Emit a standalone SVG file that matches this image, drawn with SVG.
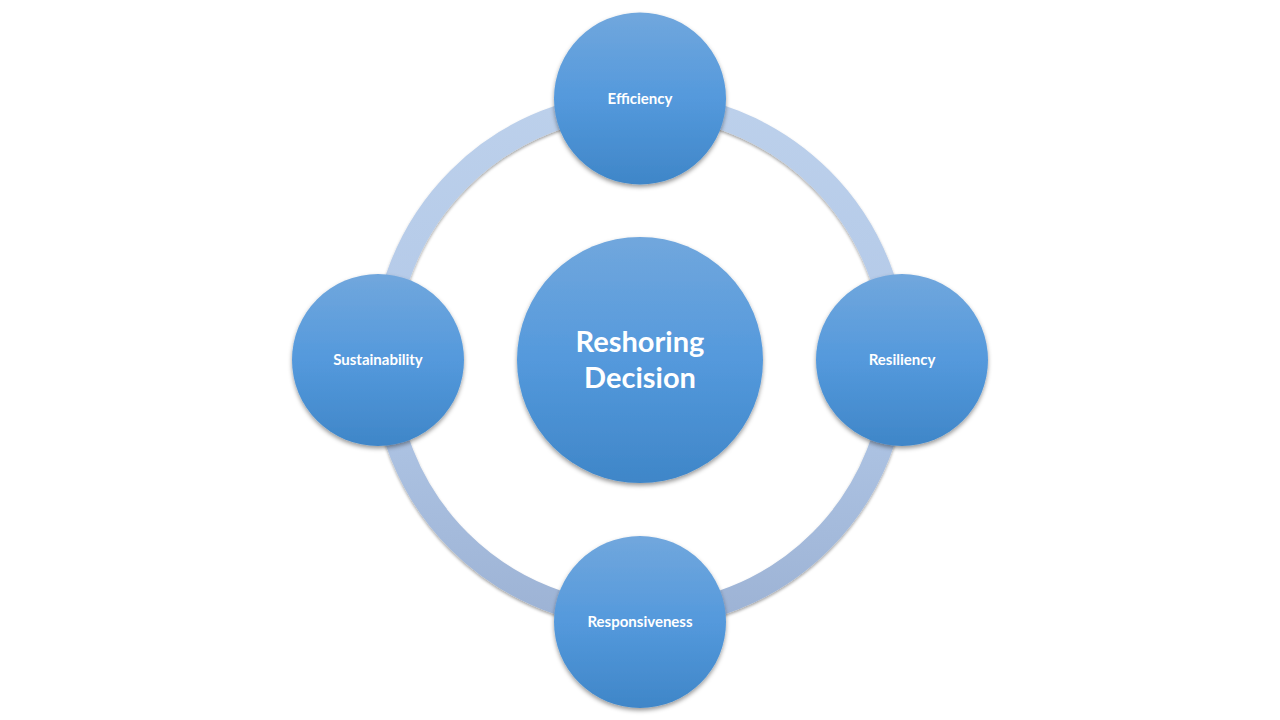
<svg xmlns="http://www.w3.org/2000/svg" width="1280" height="720" viewBox="0 0 1280 720">
  <defs>
    <linearGradient id="ballGrad" x1="0" y1="0" x2="0" y2="1">
      <stop offset="0" stop-color="#71a7dd"/>
      <stop offset="0.5" stop-color="#5499dc"/>
      <stop offset="1" stop-color="#3f86c8"/>
    </linearGradient>
    <linearGradient id="ringGrad" gradientUnits="userSpaceOnUse" x1="0" y1="104" x2="0" y2="616">
      <stop offset="0" stop-color="#bcd0eb"/>
      <stop offset="0.5" stop-color="#b3c9e8"/>
      <stop offset="1" stop-color="#9db3d5"/>
    </linearGradient>
    <filter id="shadow" x="-20%" y="-20%" width="140%" height="140%">
      <feDropShadow dx="0" dy="2.5" stdDeviation="2" flood-color="#000" flood-opacity="0.4"/>
    </filter>
    <filter id="ringShadow" x="-10%" y="-10%" width="120%" height="120%">
      <feDropShadow dx="0" dy="2" stdDeviation="1.5" flood-color="#000" flood-opacity="0.35"/>
    </filter>
  </defs>
  <style>
    .ball { fill: url(#ballGrad); filter: url(#shadow); }
    .lbl { font-family: Lato, "Open Sans", "Liberation Sans", sans-serif; font-weight: bold; fill: #ffffff; text-anchor: middle; }
    .small { font-size: 15px; }
    .big { font-size: 29px; }
  </style>
  <rect width="1280" height="720" fill="#ffffff"/>
  <g id="connectors">
    <circle cx="640" cy="360" r="256" fill="none" stroke="url(#ringGrad)" stroke-width="24" filter="url(#ringShadow)"/>
  </g>
  <g id="center">
    <circle class="ball" cx="640" cy="360" r="123"/>
    <text class="lbl big" x="640" y="352">Reshoring</text>
    <text class="lbl big" x="640" y="388">Decision</text>
  </g>
  <g id="efficiency">
    <circle class="ball" cx="640" cy="98.5" r="86"/>
    <text class="lbl small" x="640" y="104">Efficiency</text>
  </g>
  <g id="resiliency">
    <circle class="ball" cx="902" cy="360" r="86"/>
    <text class="lbl small" x="902" y="365">Resiliency</text>
  </g>
  <g id="responsiveness">
    <circle class="ball" cx="640" cy="622" r="86"/>
    <text class="lbl small" x="640" y="627">Responsiveness</text>
  </g>
  <g id="sustainability">
    <circle class="ball" cx="378" cy="360" r="86"/>
    <text class="lbl small" x="378" y="365">Sustainability</text>
  </g>
</svg>
